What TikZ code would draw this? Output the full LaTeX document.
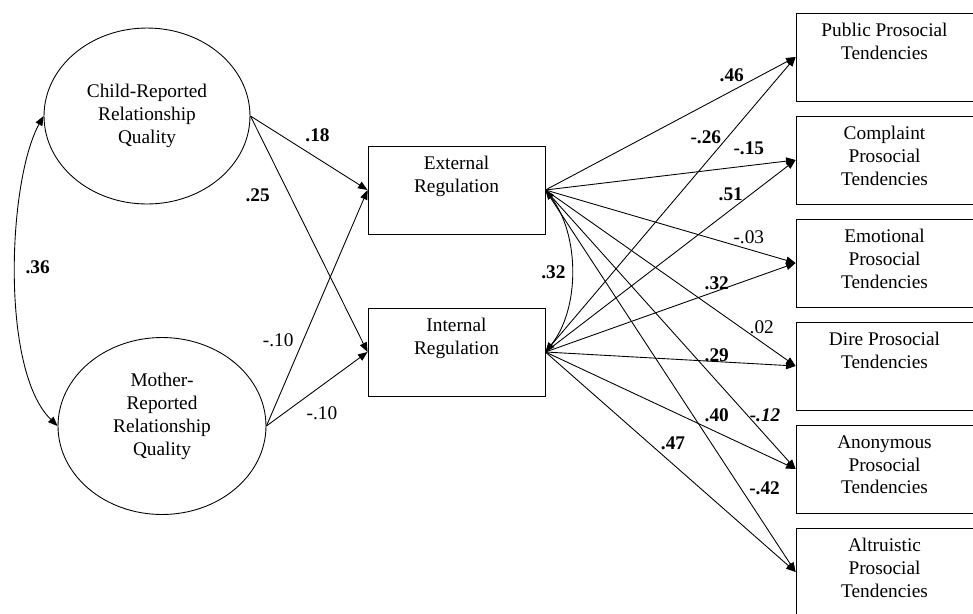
\documentclass[tikz,border=0pt]{standalone}
\usepackage{fontspec}
\setmainfont{Liberation Serif}
\usetikzlibrary{arrows.meta,shapes.geometric}

\begin{document}
\begin{tikzpicture}[x=0.02cm,y=-0.02cm,font=\fontsize{11}{13}\selectfont,line width=0.5pt]
  \tikzset{latent/.style={draw,ellipse,inner sep=0pt,align=center},
    obs/.style={draw,inner sep=0pt,minimum width=3.54cm,minimum height=1.76cm},
    boxtxt/.style={anchor=north,align=center,inner sep=0pt,yshift=-0.21cm},
    lattxt/.style={anchor=north,align=center,inner sep=0pt,yshift=-0.72cm},
    coef/.style={font=\fontsize{11}{13}\selectfont\bfseries,inner sep=0pt},
    coefn/.style={inner sep=0pt},
    arr/.style={-{Triangle[length=1.9mm,width=1.5mm]}},
    corr/.style={{Triangle[length=1.9mm,width=1.5mm]}-{Triangle[length=1.9mm,width=1.5mm]}}}
  \useasboundingbox (0,0) rectangle (973,613);
  \clip (0,0) rectangle (973,613);
  % relationship quality (latent)
  \node[latent,minimum width=4.12cm,minimum height=3.52cm] (crq) at (147,116) {Child-Reported\\Relationship\\Quality};
  \node[latent,minimum width=4.16cm,minimum height=3.54cm,label={[lattxt]north:Mother-\\Reported\\Relationship\\Quality}] (mrq) at (162,426) {};
  % regulation
  \node[obs,label={[boxtxt]north:External\\Regulation}] (extr) at (456.5,190) {};
  \node[obs,label={[boxtxt]north:Internal\\Regulation}] (intr) at (456.5,352) {};
  % prosocial tendencies
  \foreach \nm/\yy/\txt in {pub/57/{Public Prosocial\\Tendencies},com/160/{Complaint\\Prosocial\\Tendencies},
      emo/263/{Emotional\\Prosocial\\Tendencies},dir/366/{Dire Prosocial\\Tendencies},
      ano/469/{Anonymous\\Prosocial\\Tendencies},alt/572/{Altruistic\\Prosocial\\Tendencies}}
    \node[obs,label={[boxtxt]north:\txt}] (\nm) at (884.5,\yy) {};
  % quality -> regulation
  \draw[arr] (crq.east) -- node[coef,pos=.573,yshift=0.47cm] (k18) {.18} (extr.west);
  \draw[arr] (crq.east) -- node[coef,pos=.335,xshift=-0.64cm] (k25) {.25} (intr.west);
  \draw[arr] (mrq.east) -- node[coefn,pos=.364,xshift=-0.5cm] (k10a) {-.10} (extr.west);
  \draw[arr] (mrq.east) -- node[coefn,pos=.549,yshift=-0.55cm] (k10b) {-.10} (intr.west);
  \draw[corr] (crq.west) .. controls (8,180) and (0,370) .. node[coef,pos=.5,xshift=0.44cm,yshift=0.14cm] (k36) {.36} (mrq.west);
  \draw[corr] (extr.east) .. controls (580,235) and (580,309) .. node[coef,pos=.5,xshift=-0.36cm] (k32a) {.32} (intr.east);
  % regulation -> tendencies
  \draw[arr] (extr.east) -- node[coef,pos=.745,yshift=0.32cm] (k46) {.46} (pub.west);
  \draw[arr] (intr.east) -- node[coef,pos=.729,xshift=-0.44cm] (k26) {-.26} (pub.west);
  \draw[arr] (extr.east) -- node[coef,pos=.813,yshift=0.35cm] (k15) {-.15} (com.west);
  \draw[arr] (intr.east) -- node[coef,pos=.741,yshift=0.31cm] (k51) {.51} (com.west);
  \draw[arr] (extr.east) -- node[coefn,pos=.813,yshift=0.25cm] (k03) {-.03} (emo.west);
  \draw[arr] (intr.east) -- node[coef,pos=.685,yshift=0.16cm] (k32b) {.32} (emo.west);
  \draw[arr] (extr.east) -- node[coefn,pos=.865,yshift=0.3cm] (k02) {.02} (dir.west);
  \draw[arr] (intr.east) -- node[coef,pos=.685,yshift=0.13cm] (k29) {.29} (dir.west);
  \draw[arr] (extr.east) -- node[coef,pos=.806,xshift=0.36cm] (k12) {\textit{-.12}} (ano.west);
  \draw[arr] (intr.east) -- node[coef,pos=.685,yshift=0.34cm] (k40) {.40} (ano.west);
  \draw[arr] (extr.east) -- node[coef,pos=.78,xshift=0.48cm] (k42) {-.42} (alt.west);
  \draw[arr] (intr.east) -- node[coef,pos=.51,yshift=0.42cm] (k47) {.47} (alt.west);
\end{tikzpicture}
\end{document}
